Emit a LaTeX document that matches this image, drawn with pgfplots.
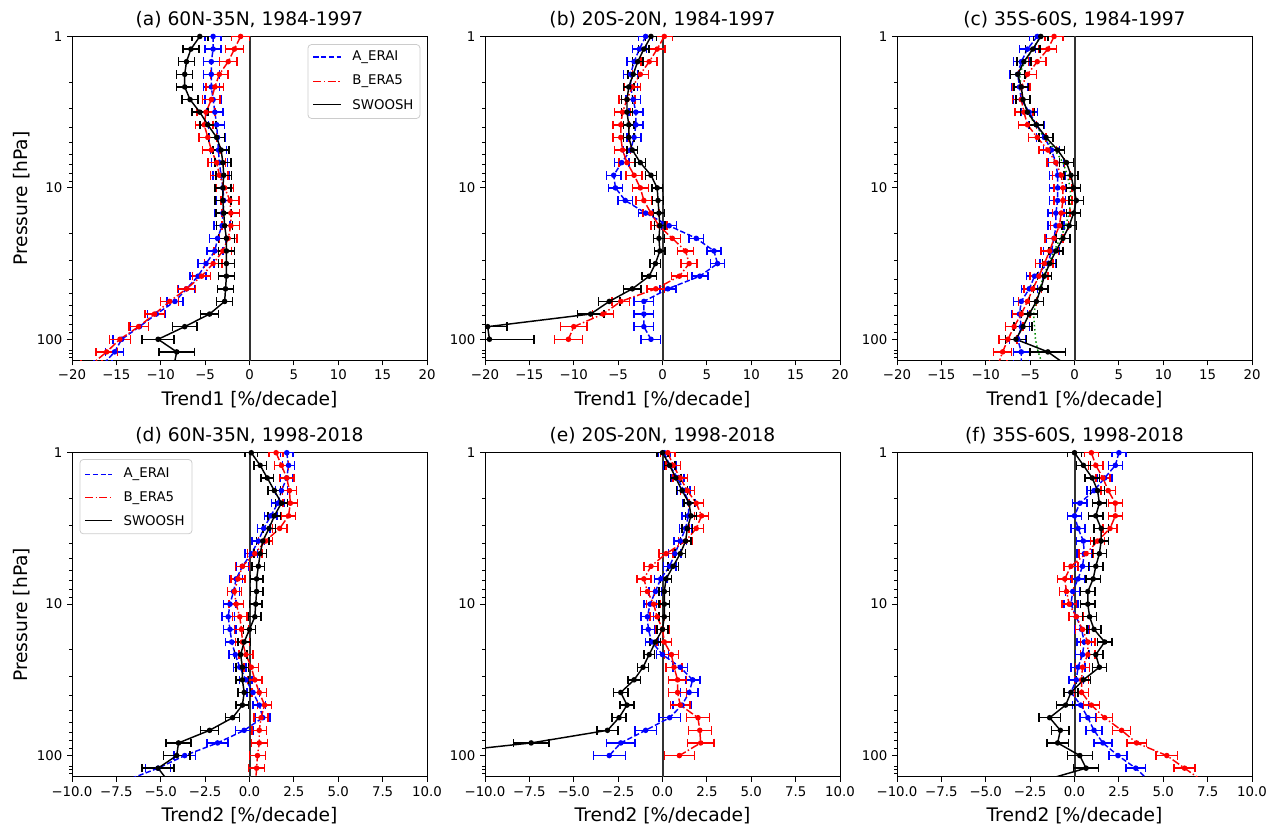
\documentclass[border=0pt]{standalone}
\usepackage{fontspec}
\setmainfont{DejaVu Sans}
\usepackage{pgfplots}
\pgfplotsset{compat=1.18}
\usepackage{pgfplotstable}

% columns: pressure, A_ERAI trend/err, B_ERA5 trend/err, SWOOSH trend/err
\pgfplotstableread{
p ax ae bx be sx se
1 -4.1 0.9 -1.0 1.0 -5.6 0.9
1.2115 -4.1 0.9 -1.7 1.0 -6.6 0.9
1.4678 -4.3 0.9 -2.4 1.0 -7.1 0.9
1.7783 -4.3 0.9 -3.4 1.0 -7.3 0.9
2.1544 -4.3 0.9 -3.9 1.0 -7.3 0.9
2.6102 -4.1 0.9 -4.3 1.0 -6.7 0.9
3.1623 -3.9 0.9 -4.9 1.0 -5.6 0.9
3.8312 -3.7 0.9 -5.1 1.0 -4.7 0.9
4.6416 -3.6 0.9 -4.7 1.0 -3.7 0.9
5.6234 -3.5 0.9 -4.3 1.0 -3.2 0.9
6.8129 -3.4 0.9 -3.7 1.0 -3.0 0.9
8.2540 -3.2 0.9 -3.4 1.0 -2.9 0.9
10 -3.0 0.9 -2.8 1.0 -3.0 0.9
12.115 -2.9 0.9 -2.2 1.0 -3.0 0.9
14.678 -3.0 0.9 -2.1 1.0 -2.9 0.9
17.783 -3.1 0.9 -2.1 1.0 -2.8 0.9
21.544 -3.6 0.9 -2.4 1.0 -2.6 0.9
26.102 -3.9 0.9 -3.0 1.0 -2.6 0.9
31.623 -4.9 0.9 -4.1 1.0 -2.6 0.9
38.312 -5.8 0.9 -5.4 1.0 -2.6 0.9
46.416 -7.1 0.9 -7.1 1.0 -2.7 0.9
56.234 -8.4 0.9 -9.0 1.0 -2.8 0.9
68.129 -10.5 1.0 -10.7 1.1 -4.5 1.0
82.540 -12.4 1.0 -12.5 1.1 -7.3 1.4
100 -14.4 1.0 -14.6 1.2 -10.3 1.8
121.15 -15.2 1.0 -16.1 1.2 -8.2 2.0
146.78 -16.5 1.0 -17.8 1.2 -8.5 2.0
}\tabA

\pgfplotstableread{
p ax ae bx be sx se
1 -1.9 0.8 0.2 0.9 -1.3 0.6
1.2115 -2.6 0.8 -0.6 0.9 -2.1 0.6
1.4678 -3.2 0.8 -1.5 0.9 -2.8 0.6
1.7783 -3.6 0.8 -2.5 0.9 -3.3 0.6
2.1544 -3.6 0.8 -3.4 0.9 -3.8 0.6
2.6102 -3.3 0.8 -4.0 0.9 -4.0 0.6
3.1623 -3.0 0.8 -4.5 0.9 -4.0 0.6
3.8312 -3.0 0.8 -4.7 0.9 -3.8 0.6
4.6416 -3.2 0.8 -4.7 0.9 -3.8 0.6
5.6234 -3.6 0.8 -4.5 0.9 -3.4 0.6
6.8129 -4.6 0.8 -4.0 0.9 -2.5 0.6
8.2540 -5.5 0.8 -3.2 0.9 -1.3 0.6
10 -5.3 0.8 -2.5 0.9 -0.6 0.6
12.115 -4.2 0.8 -2.1 0.9 -0.5 0.6
14.678 -1.9 0.8 -1.3 0.9 -0.4 0.6
17.783 0.75 0.8 -0.4 0.9 -0.3 0.6
21.544 3.8 0.8 1.1 0.9 -0.4 0.6
26.102 5.8 0.8 2.6 0.9 -0.3 0.6
31.623 6.2 0.8 3.0 0.9 -0.8 0.6
38.312 4.2 0.9 1.9 0.9 -1.5 0.8
46.416 0.6 0.9 -0.75 1.0 -3.4 1.0
56.234 -2.1 1.1 -4.7 1.0 -6.0 1.2
68.129 -2.1 1.1 -6.7 1.2 -8.1 1.5
82.540 -2.1 1.1 -10.0 1.5 -19.7 2.2
100 -1.3 1.1 -10.6 1.6 -19.5 5.0
}\tabB

\pgfplotstableread{
p ax ae bx be sx se gx
1 -4.2 0.9 -2.3 1.0 -3.8 0.8 -3.8
1.2115 -5.3 0.9 -3.0 1.0 -4.7 0.8 -4.7
1.4678 -6.0 0.9 -4.2 1.0 -5.7 0.8 -5.6
1.7783 -6.4 0.9 -5.3 1.0 -6.4 0.8 -6.2
2.1544 -6.2 0.9 -6.0 1.0 -6.0 0.8 -6.0
2.6102 -6.0 0.9 -6.0 1.0 -5.8 0.8 -5.8
3.1623 -5.1 0.9 -5.7 1.0 -5.3 0.8 -5.3
3.8312 -4.3 0.9 -5.3 1.0 -4.3 0.8 -4.4
4.6416 -3.4 0.9 -4.2 1.0 -3.2 0.8 -3.4
5.6234 -2.6 0.9 -3.0 1.0 -1.9 0.8 -2.2
6.8129 -2.1 0.9 -2.1 1.0 -0.9 0.8 -1.3
8.2540 -1.9 0.9 -1.5 1.0 -0.4 0.8 -0.8
10 -1.9 0.9 -1.3 1.0 -0.1 0.8 -0.5
12.115 -1.9 0.9 -1.3 1.0 0.2 0.8 -0.4
14.678 -2.1 0.9 -1.5 1.0 -0.1 0.8 -0.6
17.783 -2.1 0.9 -1.7 1.0 -0.6 0.8 -1.0
21.544 -2.3 0.9 -2.3 1.0 -1.3 0.8 -1.6
26.102 -2.6 0.9 -2.8 1.0 -2.1 0.8 -2.3
31.623 -3.0 0.9 -3.4 1.0 -2.8 0.8 -2.9
38.312 -4.5 0.9 -4.0 1.0 -3.4 0.8 -3.5
46.416 -5.1 0.9 -4.7 1.0 -3.8 0.8 -3.9
56.234 -6.0 0.9 -5.3 1.0 -4.3 0.8 -4.3
68.129 -6.2 0.9 -6.0 1.0 -5.1 0.9 -4.6
82.540 -6.0 0.9 -6.8 1.0 -5.8 1.0 -4.5
100 -6.4 0.9 -7.5 1.0 -6.6 1.2 -4.4
121.15 -6.0 0.9 -8.1 1.0 -3.0 2.0 -4.1
146.78 -6.0 0.9 -8.6 1.0 -1.0 2.0 -3.6
}\tabC

\pgfplotstableread{
p ax ae bx be sx se
1 2.1 0.35 1.5 0.4 0.1 0.35
1.2115 2.2 0.35 1.8 0.4 0.6 0.35
1.4678 2.1 0.35 2.1 0.4 1.0 0.35
1.7783 1.8 0.35 2.25 0.4 1.4 0.35
2.1544 1.6 0.35 2.3 0.4 1.8 0.35
2.6102 1.2 0.35 2.2 0.4 1.4 0.35
3.1623 0.8 0.35 1.7 0.4 1.1 0.35
3.8312 0.5 0.35 0.9 0.4 0.75 0.35
4.6416 0.1 0.35 0.3 0.4 0.6 0.35
5.6234 -0.4 0.35 -0.4 0.4 0.5 0.35
6.8129 -0.75 0.35 -0.65 0.4 0.4 0.35
8.2540 -0.9 0.35 -0.85 0.4 0.4 0.35
10 -1.1 0.35 -0.75 0.4 0.35 0.35
12.115 -1.2 0.35 -0.55 0.4 0.3 0.35
14.678 -1.1 0.35 -0.45 0.4 0.0 0.35
17.783 -1.0 0.35 -0.4 0.4 -0.3 0.35
21.544 -0.8 0.35 -0.2 0.4 -0.5 0.35
26.102 -0.55 0.35 0.1 0.4 -0.4 0.35
31.623 -0.2 0.35 0.3 0.4 -0.4 0.35
38.312 0.2 0.35 0.55 0.4 -0.3 0.35
46.416 0.55 0.35 0.85 0.4 -0.4 0.35
56.234 0.75 0.4 0.65 0.4 -0.95 0.4
68.129 -0.3 0.5 0.55 0.4 -2.25 0.5
82.540 -1.8 0.6 0.55 0.45 -4.0 0.7
100 -3.65 0.6 0.45 0.45 -4.1 0.75
121.15 -5.15 0.7 0.4 0.45 -5.15 0.9
146.78 -7.0 0.7 0.35 0.45 -4.6 0.9
}\tabD

\pgfplotstableread{
p ax ae bx be sx se
1 0.1 0.35 0.3 0.4 0.0 0.3
1.2115 0.4 0.35 0.6 0.4 0.4 0.3
1.4678 0.85 0.35 1.0 0.4 0.75 0.3
1.7783 1.2 0.35 1.4 0.4 1.1 0.3
2.1544 1.5 0.35 1.9 0.4 1.5 0.3
2.6102 1.45 0.35 2.2 0.4 1.6 0.3
3.1623 1.3 0.35 1.9 0.4 1.4 0.3
3.8312 1.0 0.35 1.3 0.4 1.3 0.3
4.6416 0.7 0.35 0.2 0.4 1.0 0.3
5.6234 0.4 0.35 -0.65 0.4 0.6 0.3
6.8129 -0.1 0.35 -1.05 0.4 0.2 0.3
8.2540 -0.4 0.35 -0.85 0.4 0.1 0.3
10 -0.7 0.35 -0.5 0.4 0.1 0.3
12.115 -0.85 0.35 -0.3 0.4 0.1 0.3
14.678 -0.8 0.35 0.0 0.4 0.0 0.3
17.783 -0.6 0.35 0.1 0.4 -0.4 0.3
21.544 0.0 0.35 0.5 0.4 -0.75 0.3
26.102 1.0 0.4 0.65 0.45 -1.1 0.3
31.623 1.7 0.4 0.85 0.5 -1.6 0.35
38.312 1.5 0.5 0.85 0.5 -2.35 0.4
46.416 1.1 0.5 1.0 0.55 -2.0 0.4
56.234 0.4 0.6 2.0 0.65 -2.45 0.4
68.129 -0.95 0.6 2.1 0.65 -3.1 0.6
82.540 -2.35 0.8 2.15 0.75 -7.4 1.0
100 -3.0 0.9 0.95 0.85 -14.0 1.0
}\tabE

\pgfplotstableread{
p ax ae bx be sx se
1 2.5 0.4 0.95 0.4 0.0 0.4
1.2115 2.3 0.4 1.2 0.4 0.5 0.4
1.4678 1.7 0.4 1.6 0.4 1.0 0.4
1.7783 1.1 0.4 1.9 0.4 1.3 0.4
2.1544 0.3 0.4 2.3 0.4 1.4 0.4
2.6102 0.0 0.4 2.3 0.4 1.2 0.4
3.1623 0.2 0.4 2.0 0.4 1.5 0.4
3.8312 0.5 0.4 1.3 0.4 1.5 0.4
4.6416 0.55 0.4 0.65 0.4 1.4 0.4
5.6234 0.45 0.4 -0.2 0.4 1.2 0.4
6.8129 0.2 0.4 -0.55 0.4 1.05 0.4
8.2540 -0.1 0.4 -0.45 0.4 0.75 0.4
10 -0.2 0.4 -0.3 0.4 0.75 0.4
12.115 0.1 0.4 0.1 0.4 0.85 0.4
14.678 0.4 0.4 0.45 0.4 1.1 0.4
17.783 0.55 0.4 0.75 0.4 1.7 0.4
21.544 0.45 0.4 0.75 0.4 1.2 0.4
26.102 0.2 0.4 0.45 0.4 1.4 0.4
31.623 0.1 0.4 0.4 0.4 0.5 0.4
38.312 -0.2 0.4 0.4 0.4 -0.2 0.4
46.416 0.35 0.45 0.95 0.45 -0.5 0.5
56.234 0.75 0.45 1.7 0.45 -1.4 0.6
68.129 1.1 0.45 2.65 0.5 -0.8 0.5
82.540 1.6 0.5 3.5 0.55 -0.95 0.6
100 2.45 0.5 5.2 0.6 0.3 0.7
121.15 3.45 0.55 6.2 0.6 0.65 0.7
146.78 4.2 0.6 7.2 0.6 -1.8 0.7
}\tabF

\pgfplotsset{
  every tick/.style={black, line width=0.6pt},
  tick label style={font=\fontsize{10}{12}\selectfont},
  every axis title/.append style={font=\fontsize{14}{17}\selectfont, yshift=-3pt},
  every axis label/.append style={font=\fontsize{14}{17}\selectfont},
  every axis x label/.style={at={(axis description cs:0.5,-0.121)}, anchor=center},
  every axis y label/.style={at={(axis description cs:-0.141,0.5)}, anchor=center, rotate=90},
}

\begin{document}
\begin{tikzpicture}
\useasboundingbox (0,0) rectangle (949.5pt,623.25pt);

% ---- (a)
\begin{axis}[at={(54pt,352.9pt)}, anchor=south west, scale only axis, width=266.25pt, height=243pt,
  ymode=log, y dir=reverse, ymin=1, ymax=138, ytick={1,10,100}, yticklabels={1,10,100},
  minor ytick={2,3,4,5,6,7,8,9,20,30,40,50,60,70,80,90,118,124,131},
  tick align=outside, tick pos=left, major tick length=3.7pt, minor tick length=2.1pt,
  xmin=-20, xmax=20, xtick={-20,-15,-10,-5,0,5,10,15,20},
  xticklabels={−20,−15,−10,−5,0,5,10,15,20},
  title={(a) 60N-35N, 1984-1997}, xlabel={Trend1 [\%/decade]}, ylabel={Pressure [hPa]}]
\addplot[black!80, line width=1.5pt, forget plot] coordinates {(0,1) (0,160)};
% legend samples
\addplot[color=blue, line width=1.1pt, dash pattern=on 4pt off 1.8pt, forget plot] coordinates {(7.2,1.371) (10.3,1.371)};
\addplot[color=red, line width=1.1pt, dash pattern=on 6pt off 1.8pt on 1.1pt off 1.8pt, forget plot] coordinates {(7.2,1.984) (10.3,1.984)};
\addplot[color=black, line width=1.1pt, forget plot] coordinates {(7.2,2.807) (10.3,2.807)};
\addplot[color=blue, line width=1.1pt, dash pattern=on 4pt off 1.8pt, mark=*, mark size=1.5pt, mark options={solid},
  error bars/.cd, x dir=both, x explicit, error bar style={solid, line width=1.1pt},
  error mark options={solid, line width=1.1pt, mark size=3.2pt, rotate=90}]
  table[x=ax, y=p, x error=ae] {\tabA};
\addplot[color=red, line width=1.1pt, dash pattern=on 6pt off 1.8pt on 1.1pt off 1.8pt, mark=*, mark size=1.5pt, mark options={solid},
  error bars/.cd, x dir=both, x explicit, error bar style={solid, line width=1.1pt},
  error mark options={solid, line width=1.1pt, mark size=3.2pt, rotate=90}]
  table[x=bx, y=p, x error=be] {\tabA};
\addplot[color=black, line width=1.1pt, mark=*, mark size=1.5pt,
  error bars/.cd, x dir=both, x explicit, error bar style={line width=1.1pt},
  error mark options={line width=1.1pt, mark size=3.2pt, rotate=90}]
  table[x=sx, y=p, x error=se] {\tabA};
\draw[black!20, rounded corners=2.5pt, line width=0.6pt]
  (axis description cs:0.665,0.747) rectangle (axis description cs:0.980,0.975);
\node[anchor=west, inner sep=0pt, font=\fontsize{10}{12}\selectfont] at (axis description cs:0.789,0.936) {A\_ERAI};
\node[anchor=west, inner sep=0pt, font=\fontsize{10}{12}\selectfont] at (axis description cs:0.789,0.861) {B\_ERA5};
\node[anchor=west, inner sep=0pt, font=\fontsize{10}{12}\selectfont] at (axis description cs:0.789,0.7905) {SWOOSH};
\end{axis}

% ---- (b)
\begin{axis}[at={(363.75pt,352.9pt)}, anchor=south west, scale only axis, width=266.25pt, height=243pt,
  ymode=log, y dir=reverse, ymin=1, ymax=138, ytick={1,10,100}, yticklabels={1,10,100},
  minor ytick={2,3,4,5,6,7,8,9,20,30,40,50,60,70,80,90,118,124,131},
  tick align=outside, tick pos=left, major tick length=3.7pt, minor tick length=2.1pt,
  xmin=-20, xmax=20, xtick={-20,-15,-10,-5,0,5,10,15,20},
  xticklabels={−20,−15,−10,−5,0,5,10,15,20},
  title={(b) 20S-20N, 1984-1997}, xlabel={Trend1 [\%/decade]}]
\addplot[black!80, line width=1.5pt, forget plot] coordinates {(0,1) (0,160)};
\addplot[color=blue, line width=1.1pt, dash pattern=on 4pt off 1.8pt, mark=*, mark size=1.5pt, mark options={solid},
  error bars/.cd, x dir=both, x explicit, error bar style={solid, line width=1.1pt},
  error mark options={solid, line width=1.1pt, mark size=3.2pt, rotate=90}]
  table[x=ax, y=p, x error=ae] {\tabB};
\addplot[color=red, line width=1.1pt, dash pattern=on 6pt off 1.8pt on 1.1pt off 1.8pt, mark=*, mark size=1.5pt, mark options={solid},
  error bars/.cd, x dir=both, x explicit, error bar style={solid, line width=1.1pt},
  error mark options={solid, line width=1.1pt, mark size=3.2pt, rotate=90}]
  table[x=bx, y=p, x error=be] {\tabB};
\addplot[color=black, line width=1.1pt, mark=*, mark size=1.5pt,
  error bars/.cd, x dir=both, x explicit, error bar style={line width=1.1pt},
  error mark options={line width=1.1pt, mark size=3.2pt, rotate=90}]
  table[x=sx, y=p, x error=se] {\tabB};
\end{axis}

% ---- (c)
\begin{axis}[at={(672.75pt,352.9pt)}, anchor=south west, scale only axis, width=266.25pt, height=243pt,
  ymode=log, y dir=reverse, ymin=1, ymax=138, ytick={1,10,100}, yticklabels={1,10,100},
  minor ytick={2,3,4,5,6,7,8,9,20,30,40,50,60,70,80,90,118,124,131},
  tick align=outside, tick pos=left, major tick length=3.7pt, minor tick length=2.1pt,
  xmin=-20, xmax=20, xtick={-20,-15,-10,-5,0,5,10,15,20},
  xticklabels={−20,−15,−10,−5,0,5,10,15,20},
  title={(c) 35S-60S, 1984-1997}, xlabel={Trend1 [\%/decade]}]
\addplot[black!80, line width=1.5pt, forget plot] coordinates {(0,1) (0,160)};
\addplot[color=blue, line width=1.1pt, dash pattern=on 4pt off 1.8pt, mark=*, mark size=1.5pt, mark options={solid},
  error bars/.cd, x dir=both, x explicit, error bar style={solid, line width=1.1pt},
  error mark options={solid, line width=1.1pt, mark size=3.2pt, rotate=90}]
  table[x=ax, y=p, x error=ae] {\tabC};
\addplot[color=red, line width=1.1pt, dash pattern=on 6pt off 1.8pt on 1.1pt off 1.8pt, mark=*, mark size=1.5pt, mark options={solid},
  error bars/.cd, x dir=both, x explicit, error bar style={solid, line width=1.1pt},
  error mark options={solid, line width=1.1pt, mark size=3.2pt, rotate=90}]
  table[x=bx, y=p, x error=be] {\tabC};
\addplot[color=green!55!black, line width=1.1pt, dotted] table[x=gx, y=p] {\tabC};
\addplot[color=black, line width=1.1pt, mark=*, mark size=1.5pt,
  error bars/.cd, x dir=both, x explicit, error bar style={line width=1.1pt},
  error mark options={line width=1.1pt, mark size=3.2pt, rotate=90}]
  table[x=sx, y=p, x error=se] {\tabC};
\end{axis}

% ---- (d)
\begin{axis}[at={(54pt,40.7pt)}, anchor=south west, scale only axis, width=266.25pt, height=243pt,
  ymode=log, y dir=reverse, ymin=1, ymax=138, ytick={1,10,100}, yticklabels={1,10,100},
  minor ytick={2,3,4,5,6,7,8,9,20,30,40,50,60,70,80,90,118,124,131},
  tick align=outside, tick pos=left, major tick length=3.7pt, minor tick length=2.1pt,
  xmin=-10, xmax=10, xtick={-10,-7.5,-5,-2.5,0,2.5,5,7.5,10},
  xticklabels={−10.0,−7.5,−5.0,−2.5,0.0,2.5,5.0,7.5,10.0},
  title={(d) 60N-35N, 1998-2018}, xlabel={Trend2 [\%/decade]}, ylabel={Pressure [hPa]}]
\addplot[black!80, line width=1.5pt, forget plot] coordinates {(0,1) (0,160)};
% legend samples
\addplot[color=blue, line width=1.1pt, dash pattern=on 4pt off 1.8pt, forget plot] coordinates {(-9.26,1.391) (-7.74,1.391)};
\addplot[color=red, line width=1.1pt, dash pattern=on 6pt off 1.8pt on 1.1pt off 1.8pt, forget plot] coordinates {(-9.26,1.984) (-7.74,1.984)};
\addplot[color=black, line width=1.1pt, forget plot] coordinates {(-9.26,2.814) (-7.74,2.814)};
\addplot[color=blue, line width=1.1pt, dash pattern=on 4pt off 1.8pt, mark=*, mark size=1.5pt, mark options={solid},
  error bars/.cd, x dir=both, x explicit, error bar style={solid, line width=1.1pt},
  error mark options={solid, line width=1.1pt, mark size=3.2pt, rotate=90}]
  table[x=ax, y=p, x error=ae] {\tabD};
\addplot[color=red, line width=1.1pt, dash pattern=on 6pt off 1.8pt on 1.1pt off 1.8pt, mark=*, mark size=1.5pt, mark options={solid},
  error bars/.cd, x dir=both, x explicit, error bar style={solid, line width=1.1pt},
  error mark options={solid, line width=1.1pt, mark size=3.2pt, rotate=90}]
  table[x=bx, y=p, x error=be] {\tabD};
\addplot[color=black, line width=1.1pt, mark=*, mark size=1.5pt,
  error bars/.cd, x dir=both, x explicit, error bar style={line width=1.1pt},
  error mark options={line width=1.1pt, mark size=3.2pt, rotate=90}]
  table[x=sx, y=p, x error=se] {\tabD};
\draw[black!20, rounded corners=2.5pt, line width=0.6pt]
  (axis description cs:0.0225,0.750) rectangle (axis description cs:0.338,0.979);
\node[anchor=west, inner sep=0pt, font=\fontsize{10}{12}\selectfont] at (axis description cs:0.1445,0.933) {A\_ERAI};
\node[anchor=west, inner sep=0pt, font=\fontsize{10}{12}\selectfont] at (axis description cs:0.1445,0.861) {B\_ERA5};
\node[anchor=west, inner sep=0pt, font=\fontsize{10}{12}\selectfont] at (axis description cs:0.1445,0.790) {SWOOSH};
\end{axis}

% ---- (e)
\begin{axis}[at={(363.75pt,40.7pt)}, anchor=south west, scale only axis, width=266.25pt, height=243pt,
  ymode=log, y dir=reverse, ymin=1, ymax=138, ytick={1,10,100}, yticklabels={1,10,100},
  minor ytick={2,3,4,5,6,7,8,9,20,30,40,50,60,70,80,90,118,124,131},
  tick align=outside, tick pos=left, major tick length=3.7pt, minor tick length=2.1pt,
  xmin=-10, xmax=10, xtick={-10,-7.5,-5,-2.5,0,2.5,5,7.5,10},
  xticklabels={−10.0,−7.5,−5.0,−2.5,0.0,2.5,5.0,7.5,10.0},
  title={(e) 20S-20N, 1998-2018}, xlabel={Trend2 [\%/decade]}]
\addplot[black!80, line width=1.5pt, forget plot] coordinates {(0,1) (0,160)};
\addplot[color=blue, line width=1.1pt, dash pattern=on 4pt off 1.8pt, mark=*, mark size=1.5pt, mark options={solid},
  error bars/.cd, x dir=both, x explicit, error bar style={solid, line width=1.1pt},
  error mark options={solid, line width=1.1pt, mark size=3.2pt, rotate=90}]
  table[x=ax, y=p, x error=ae] {\tabE};
\addplot[color=red, line width=1.1pt, dash pattern=on 6pt off 1.8pt on 1.1pt off 1.8pt, mark=*, mark size=1.5pt, mark options={solid},
  error bars/.cd, x dir=both, x explicit, error bar style={solid, line width=1.1pt},
  error mark options={solid, line width=1.1pt, mark size=3.2pt, rotate=90}]
  table[x=bx, y=p, x error=be] {\tabE};
\addplot[color=black, line width=1.1pt, mark=*, mark size=1.5pt,
  error bars/.cd, x dir=both, x explicit, error bar style={line width=1.1pt},
  error mark options={line width=1.1pt, mark size=3.2pt, rotate=90}]
  table[x=sx, y=p, x error=se] {\tabE};
\end{axis}

% ---- (f)
\begin{axis}[at={(672.75pt,40.7pt)}, anchor=south west, scale only axis, width=266.25pt, height=243pt,
  ymode=log, y dir=reverse, ymin=1, ymax=138, ytick={1,10,100}, yticklabels={1,10,100},
  minor ytick={2,3,4,5,6,7,8,9,20,30,40,50,60,70,80,90,118,124,131},
  tick align=outside, tick pos=left, major tick length=3.7pt, minor tick length=2.1pt,
  xmin=-10, xmax=10, xtick={-10,-7.5,-5,-2.5,0,2.5,5,7.5,10},
  xticklabels={−10.0,−7.5,−5.0,−2.5,0.0,2.5,5.0,7.5,10.0},
  title={(f) 35S-60S, 1998-2018}, xlabel={Trend2 [\%/decade]}]
\addplot[black!80, line width=1.5pt, forget plot] coordinates {(0,1) (0,160)};
\addplot[color=blue, line width=1.1pt, dash pattern=on 4pt off 1.8pt, mark=*, mark size=1.5pt, mark options={solid},
  error bars/.cd, x dir=both, x explicit, error bar style={solid, line width=1.1pt},
  error mark options={solid, line width=1.1pt, mark size=3.2pt, rotate=90}]
  table[x=ax, y=p, x error=ae] {\tabF};
\addplot[color=red, line width=1.1pt, dash pattern=on 6pt off 1.8pt on 1.1pt off 1.8pt, mark=*, mark size=1.5pt, mark options={solid},
  error bars/.cd, x dir=both, x explicit, error bar style={solid, line width=1.1pt},
  error mark options={solid, line width=1.1pt, mark size=3.2pt, rotate=90}]
  table[x=bx, y=p, x error=be] {\tabF};
\addplot[color=black, line width=1.1pt, mark=*, mark size=1.5pt,
  error bars/.cd, x dir=both, x explicit, error bar style={line width=1.1pt},
  error mark options={line width=1.1pt, mark size=3.2pt, rotate=90}]
  table[x=sx, y=p, x error=se] {\tabF};
\end{axis}
\end{tikzpicture}
\end{document}
